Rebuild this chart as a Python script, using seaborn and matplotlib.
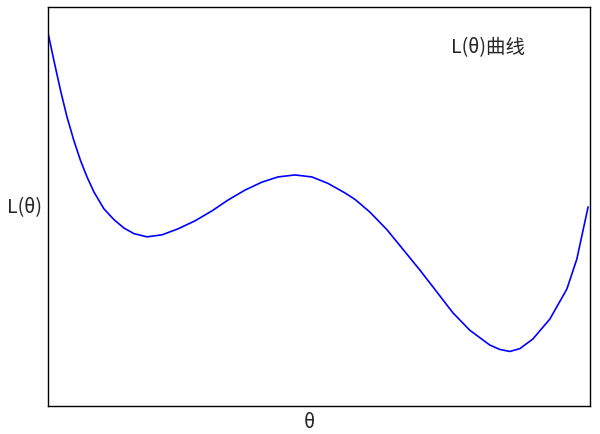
import matplotlib
matplotlib.use("Agg")
import matplotlib.pyplot as plt
import seaborn as sns
import pandas as pd

theta = [0.000, 0.110, 0.234, 0.351, 0.480, 0.603, 0.720, 0.849, 1.033, 1.218,
         1.402, 1.587, 1.827, 2.103, 2.399, 2.712, 3.026, 3.321, 3.635, 3.948,
         4.244, 4.557, 4.871, 5.166, 5.480, 5.664, 5.941, 6.255, 6.550, 6.863,
         7.177, 7.472, 7.786, 8.155, 8.339, 8.524, 8.708, 8.948, 9.262, 9.576,
         9.760, 9.969]
loss = [9.35, 8.65, 7.89, 7.24, 6.64, 6.14, 5.74, 5.36, 4.94, 4.67,
        4.46, 4.32, 4.24, 4.29, 4.44, 4.64, 4.89, 5.16, 5.41, 5.61,
        5.74, 5.79, 5.74, 5.58, 5.34, 5.18, 4.86, 4.42, 3.93, 3.41,
        2.86, 2.34, 1.90, 1.53, 1.42, 1.37, 1.44, 1.68, 2.18, 2.93,
        3.68, 4.99]

title_text = "L(θ)曲线"
xlabel = "θ"
ylabel = "L(θ)"

sns.set_style("white")
plt.rcParams["font.family"] = ["Noto Sans CJK SC", "DejaVu Sans"]

df = pd.DataFrame({"theta": theta, "loss": loss})

fig = plt.figure(figsize=(6, 4.35), dpi=100)
ax = fig.add_axes([0.08, 0.064, 0.903, 0.918])
sns.lineplot(data=df, x="theta", y="loss", ax=ax, color="blue", linewidth=1.2, sort=False)

ax.set_xlim(0, 10)
ax.set_ylim(0, 10)
ax.set_xticks([])
ax.set_yticks([])
for s in ax.spines.values():
    s.set_color("black")
    s.set_linewidth(1.0)

ax.set_xlabel(xlabel, fontsize=14, va="top")
ax.xaxis.set_label_coords(0.482, -0.012)
ax.set_ylabel(ylabel, fontsize=14, rotation=0, ha="right", va="center")
ax.yaxis.set_label_coords(-0.011, 0.5)
ax.text(0.812, 0.90, title_text, transform=ax.transAxes, fontsize=14,
        ha="center", va="center")

fig.savefig("out.png", dpi=100)
